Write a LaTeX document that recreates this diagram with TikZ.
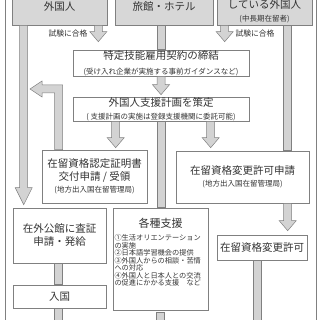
\documentclass[tikz,border=0pt]{standalone}
\usepackage{fontspec}
\setmainfont{Noto Sans CJK JP}
\usetikzlibrary{positioning, calc}
\definecolor{cGrayFill}{HTML}{D7D7D7}
\definecolor{cShaft}   {HTML}{D3D3D3}
\definecolor{cEdge}    {HTML}{808080}
\definecolor{cInk}     {HTML}{333333}

\tikzset{
  topBox/.style={draw=cEdge, fill=cGrayFill, line width=0.6pt, inner sep=0pt,
    align=center, text=cInk, font=\fontsize{10.5}{12}\selectfont},
  stepBox/.style={draw=cEdge, fill=white, line width=0.6pt, inner sep=0pt,
    align=center, text=cInk, font=\fontsize{10.5}{13}\selectfont},
  passLabel/.style={text=cInk, inner sep=0pt, font=\fontsize{7.8}{9}\selectfont},
  shaftStyle/.style={draw=cEdge, fill=cShaft, line width=0.5pt},
  frameLine/.style={draw=cEdge, line width=0.6pt},
}
% straight shaft, no head
\newcommand{\vbar}[2]{%
  \path[shaftStyle] let \p1=(#1), \p2=(#2) in
    (\x1-4pt,\y1) rectangle (\x1+4pt,\y2);}
% shaft with head pointing down
\newcommand{\vdown}[3][10pt]{%
  \path[shaftStyle] let \p1=(#2), \p2=(#3) in
    (\x1-4pt,\y1) -- (\x1-4pt,\y2+#1) -- (\x1-8.5pt,\y2+#1) -- (\x1,\y2)
    -- (\x1+8.5pt,\y2+#1) -- (\x1+4pt,\y2+#1) -- (\x1+4pt,\y1) -- cycle;}
% shaft going up, then left
\newcommand{\vupleft}[2]{%
  \path[shaftStyle] let \p1=(#1), \p2=(#2) in
    (\x1-4pt,\y1) -- (\x1-4pt,\y2-4pt) -- (\x2+12pt,\y2-4pt) -- (\x2+12pt,\y2-8pt)
    -- (\x2,\y2) -- (\x2+12pt,\y2+8pt) -- (\x2+12pt,\y2+4pt) -- (\x1+4pt,\y2+4pt)
    -- (\x1+4pt,\y1) -- cycle;}

\begin{document}
\begin{tikzpicture}[x=1pt, y=-1pt]
  \useasboundingbox (0,0) rectangle (320,320);
  \clip (0,0) rectangle (320,320);

  \draw[frameLine] (5,-5) -- (5,325);
  \draw[frameLine] (316,-5) -- (316,325);

  % boxes
  \node[topBox, minimum width=95, minimum height=37] (gaikoku) at (59.5,6.5) {外国人};
  \node[topBox, minimum width=98, minimum height=37] (ryokan) at (164,6.5) {};
  \node[text=cInk, font=\fontsize{10.5}{12}\selectfont] (ryokanTxt) at (164,7) {旅館・ホテル};
  \node[topBox, minimum width=95, minimum height=37] (zairyu) at (264.5,6.5) {};
  \node[text=cInk, inner sep=0pt, align=center, font=\fontsize{10.5}{12}\selectfont] (zairyuTxt) at (264.5,11)
    {している外国人\\[1pt] \fontsize{7.5}{9}\selectfont (中長期在留者)};

  \node[stepBox, minimum width=176, minimum height=26] (keiyaku) at (161,63)
    {特定技能雇用契約の締結\\[2pt] \fontsize{7.5}{9}\selectfont (受け入れ企業が実施する事前ガイダンスなど)};
  \node[stepBox, minimum width=176, minimum height=24] (keikaku) at (161,109)
    {外国人支援計画を策定\\[0pt] \fontsize{7.5}{9}\selectfont ( 支援計画の実施は登録支援機関に委託可能)};
  \node[stepBox, minimum width=105, minimum height=53] (nintei) at (94.5,176.5)
    {在留資格認定証明書\\交付申請 / 受領\\[-1pt] \fontsize{7.5}{9}\selectfont (地方出入国在留管理局)};
  \node[stepBox, minimum width=133, minimum height=52] (henkoShinsei) at (242.5,177)
    {在留資格変更許可申請\\[-1pt] \fontsize{7.5}{9}\selectfont (地方出入国在留管理局)};
  \node[stepBox, minimum width=93, minimum height=55] (sashou) at (59.5,235.5)
    {在外公館に査証\\申請・発給};
  \node[stepBox, minimum width=93, minimum height=23] (nyukoku) at (59.5,296.5) {入国};
  \node[stepBox, minimum width=95, minimum height=102] (shien) at (160.5,259) {};
  \node[text=cInk, inner sep=0pt, font=\fontsize{11}{12}\selectfont] (shienTitle) at (160.5,223) {各種支援};
  \node[text=cInk, inner sep=0pt, text width=92, align=left, anchor=north,
        font=\fontsize{7.2}{7.5}\selectfont, below=6pt of shienTitle] (shienItems)
    {①生活オリエンテーション\\の実施\\②日本語学習機会の提供\\③外国人からの相談・苦情\\への対応\\④外国人と日本人との交流\\の促進にかかる支援　など};
  \node[stepBox, minimum width=90, minimum height=25] (kyoka) at (262,247.5) {在留資格変更許可};

  % labels
  \node[passLabel] (passL) at (68,34) {試験に合格};
  \node[passLabel] (passR) at (255,34) {試験に合格};
  \coordinate (ninteiTip) at (30,89);

  % fat arrows
  \vdown[17pt]{$(gaikoku.south west)+(12,0)$}{$(sashou.north)+(0,-3)$}
  \vupleft{$(nintei.north west)+(17,0)$}{ninteiTip}
  \vdown{$(gaikoku.south east)+(-9,0)$}{$(keiyaku.north)+(0,-8)$}
  \vdown{$(zairyu.south west)+(8,0)$}{$(keiyaku.north)+(0,-8)$}
  \vbar{keiyaku.north |- ryokan.south}{keiyaku.north}
  \vdown{keiyaku.south}{$(keikaku.north)+(0,-2)$}
  \vdown{$(keikaku.south west)+(43,0)$}{$(nintei.north)+(0,-2)$}
  \vbar{keikaku.south}{shien.north}
  \vdown{$(keikaku.south west)+(138,0)$}{$(henkoShinsei.north)+(0,-3)$}
  \vbar{$(zairyu.south west)+(71,0)$}{henkoShinsei.north}
  \vdown{$(henkoShinsei.south west)+(112,0)$}{$(kyoka.north)+(0,-4)$}
  \vbar{$(kyoka.south)+(-4.5,0)$}{$(kyoka.south)+(0,70)$}
  \vbar{$(sashou.south)+(-1.5,0)$}{nyukoku.north}
  \vbar{$(nyukoku.south)+(-1.5,0)$}{$(nyukoku.south)+(0,30)$}
  \vbar{$(shien.south)+(0,2)$}{$(shien.south)+(0,30)$}
\end{tikzpicture}
\end{document}
